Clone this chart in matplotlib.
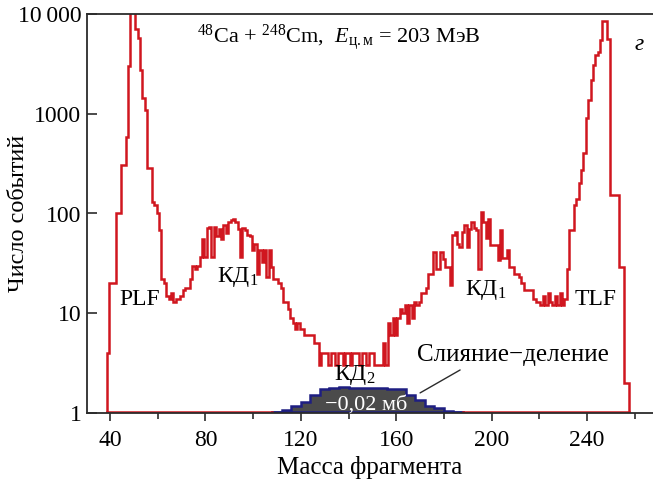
import numpy as np
import matplotlib
matplotlib.use("Agg")
import matplotlib.pyplot as plt
from matplotlib.ticker import FixedLocator, NullFormatter

plt.rcParams["font.family"] = ["Liberation Serif", "DejaVu Serif"]
plt.rcParams["mathtext.fontset"] = "custom"
plt.rcParams["mathtext.rm"] = "Liberation Serif"
plt.rcParams["mathtext.it"] = "Liberation Serif:italic"
plt.rcParams["axes.unicode_minus"] = False

# Mass distribution of all binary fragments, 1 u bins centred on masses 39..257
mass_start = 39
counts = [
    4, 20, 20, 20, 100, 100, 306, 306, 585, 3000,
    12000, 12000, 7000, 5700, 2750, 1440, 1090, 285, 285, 131,
    122, 100, 68, 22, 20, 15, 14, 16, 13, 14,
    14, 15, 17, 18, 18, 22, 30, 28, 30, 37,
    56, 37, 71, 73, 37, 73, 60, 70, 56, 77,
    64, 83, 86, 89, 83, 70, 37, 71, 68, 61,
    59, 43, 50, 25, 43, 33, 43, 23, 43, 29,
    22, 22, 20, 18, 13, 13, 11, 9, 8, 7,
    8, 7, 7, 6, 6, 6, 6, 5, 5, 3,
    4, 4, 4, 3, 4, 4, 3, 4, 4, 3,
    4, 4, 3, 4, 4, 4, 3, 4, 4, 3,
    4, 4, 3, 3, 3, 3, 5, 3, 8, 6,
    9, 6, 9, 11, 10, 12, 8, 12, 9, 13,
    12, 13, 16, 16, 18, 25, 25, 41, 28, 28,
    41, 35, 29, 29, 19, 61, 65, 50, 46, 65,
    76, 46, 70, 83, 72, 68, 28, 104, 83, 57,
    89, 48, 48, 48, 34, 68, 36, 36, 43, 29,
    29, 25, 25, 23, 20, 17, 17, 17, 17, 14,
    13, 13, 12, 15, 12, 16, 13, 12, 15, 12,
    16, 12, 14, 28, 68, 68, 121, 141, 200, 272,
    403, 900, 1380, 2180, 3080, 3890, 4170, 5480, 8540, 8540,
    5570, 153, 153, 153, 153, 29, 29, 2, 2,
]

# Fusion-fission component (4 u bins)
ff_edges = [108, 112, 116, 120, 124, 128, 132, 136, 140, 144, 148,
            152, 156, 160, 164, 168, 172, 176, 180, 184, 188]
ff_counts = [1.03, 1.08, 1.17, 1.30, 1.52, 1.73, 1.80, 1.81, 1.78, 1.77,
             1.78, 1.77, 1.75, 1.73, 1.51, 1.35, 1.17, 1.11, 1.05, 1.02]

x_ticks = [40, 80, 120, 160, 200, 240]
x_minor = [60, 100, 140, 180, 220, 260]
y_ticks = [1, 10, 100, 1000, 10000]
y_labels = ["1", "10", "100", "1000", "10\u2009000"]

red = "#d0161f"
navy = "#1e1e82"
dark = "#4b4b4b"
ink = "#2b2b2b"

counts = np.asarray(counts, dtype=float)
edges = np.arange(len(counts) + 1) + mass_start - 0.5

fig = plt.figure(figsize=(6.53, 4.92), dpi=100)
ax = fig.add_axes([87 / 653, 79 / 492, 566 / 653, 399 / 492])

ax.set_yscale("log")
ax.set_xlim(30.3, 267.7)
ax.set_ylim(1, 10000)

ax.stairs(ff_counts, ff_edges, baseline=1, fill=True, color=dark, zorder=2)
ax.stairs(ff_counts, ff_edges, baseline=1, color=navy, lw=1.8, zorder=3)

ax.stairs(counts, edges, baseline=1, color=red, lw=1.8, zorder=4)
ax.plot([edges[0], ff_edges[0]], [1.02, 1.02], color=red, lw=1.8, zorder=4)
ax.plot([ff_edges[-1], edges[-1]], [1.02, 1.02], color=red, lw=1.8, zorder=4)
ax.plot([ff_edges[0], ff_edges[-1]], [1.02, 1.02], color=navy, lw=1.8, zorder=3)

ax.spines["right"].set_visible(False)
for side in ("left", "top", "bottom"):
    ax.spines[side].set_color(ink)
    ax.spines[side].set_linewidth(1.3)
    ax.spines[side].set_zorder(5)

ax.xaxis.set_major_locator(FixedLocator(x_ticks))
ax.xaxis.set_minor_locator(FixedLocator(x_minor))
ax.xaxis.set_minor_formatter(NullFormatter())
ax.yaxis.set_major_locator(FixedLocator(y_ticks))
ax.set_yticklabels(y_labels)
ax.yaxis.set_minor_locator(FixedLocator([]))
ax.tick_params(axis="x", which="major", direction="out", length=6, width=1.2,
               color=ink, labelsize=17, pad=6)
ax.tick_params(axis="x", which="minor", direction="out", length=4, width=1.2,
               color=ink)
ax.tick_params(axis="y", which="major", direction="in", length=7, width=1.2,
               color=ink, labelsize=17, pad=4)

ax.set_xlabel("Масса фрагмента", fontsize=18, labelpad=4)
ax.set_ylabel("Число событий", fontsize=17.5)
ax.yaxis.set_label_coords(-0.103, 0.5)

ax.text(0.445, 0.94,
        r"$^{48}$Ca + $^{248}$Cm,  $E_{\mathrm{ц.м}}$ = 203 МэВ",
        transform=ax.transAxes, ha="center", va="center", fontsize=16)
ax.text(262, 4900, "г", style="italic", fontsize=17, ha="center", va="center")

lab = dict(fontsize=17, ha="center", va="center", zorder=6)
ax.text(52.6, 13.6, "PLF", **lab)
ax.text(93.7, 23, r"КД$_1$", **lab)
ax.text(197.7, 17, r"КД$_1$", **lab)
ax.text(243.8, 13.6, "TLF", **lab)
ax.text(142.7, 2.4, r"КД$_2$", **lab)
ax.text(147.5, 1.2, "\u22120,02 мб", color="white", fontsize=16,
        ha="center", va="center", zorder=6)
ax.text(209, 3.8, "Слияние\u2212деление", fontsize=18, ha="center", va="center")
ax.annotate("", xy=(170, 1.59), xytext=(186.8, 2.7),
            arrowprops=dict(arrowstyle="-", color=ink, lw=1.0,
                            shrinkA=0, shrinkB=0))

fig.savefig("out.png", dpi=100)
